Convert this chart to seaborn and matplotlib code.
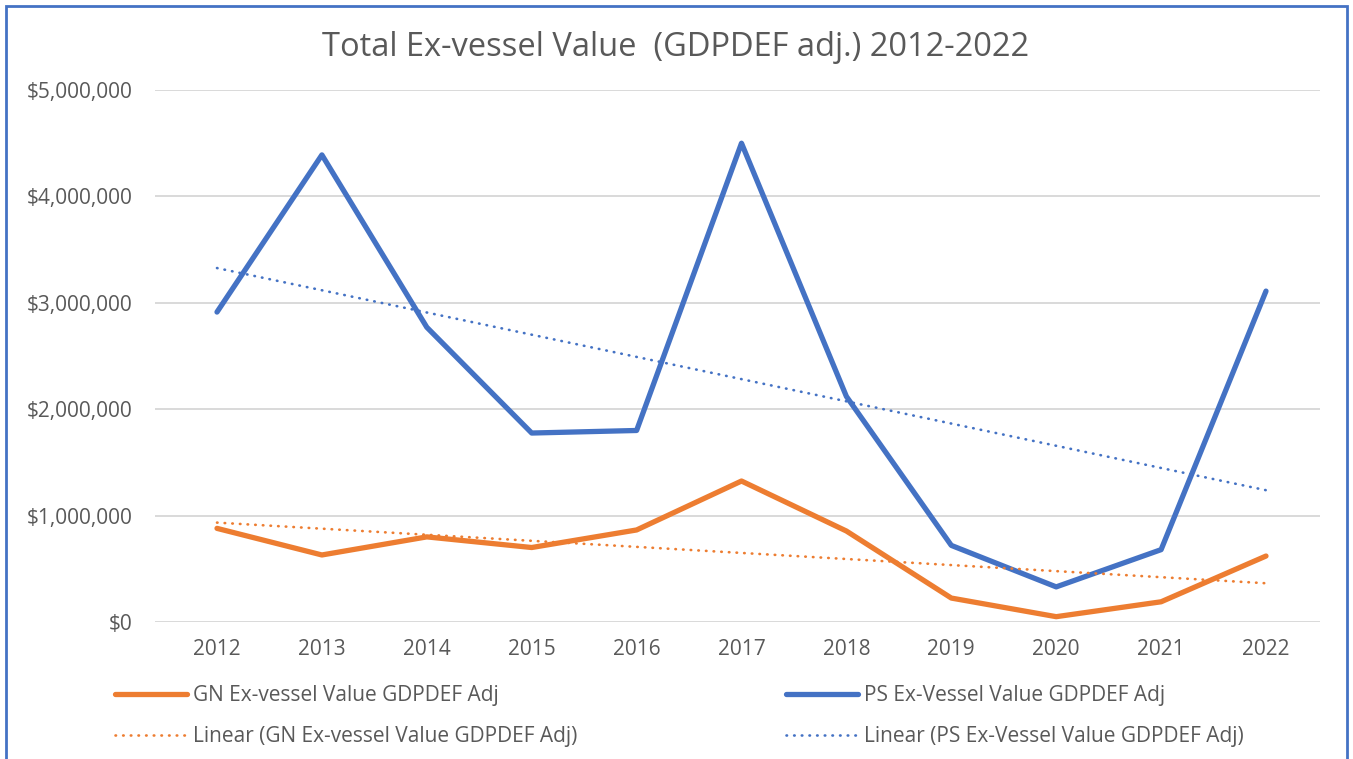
import numpy as np
import pandas as pd
import matplotlib
matplotlib.use("Agg")
import matplotlib.pyplot as plt
from matplotlib.lines import Line2D
from matplotlib.patches import Rectangle
from matplotlib.ticker import FuncFormatter
import seaborn as sns

years = [2012, 2013, 2014, 2015, 2016, 2017, 2018, 2019, 2020, 2021, 2022]
ps_values = [2913000, 4390000, 2770000, 1776000, 1800000, 4500000, 2120000, 720000, 330000, 680000, 3110000]
gn_values = [880000, 630000, 800000, 700000, 865000, 1325000, 855000, 225000, 50000, 190000, 620000]
y_ticks = [0, 1000000, 2000000, 3000000, 4000000, 5000000]

title = "Total Ex-vessel Value  (GDPDEF adj.) 2012-2022"
gn_label = "GN Ex-vessel Value GDPDEF Adj"
ps_label = "PS Ex-Vessel Value GDPDEF Adj"
gn_trend_label = "Linear (GN Ex-vessel Value GDPDEF Adj)"
ps_trend_label = "Linear (PS Ex-Vessel Value GDPDEF Adj)"

BLUE = "#4472C4"
ORANGE = "#ED7D31"
TEXT = "#595959"
GRID = "#D9D9D9"

sns.set_theme(style="white")
plt.rcParams["font.family"] = ["Open Sans", "DejaVu Sans"]

df = pd.DataFrame({"year": years, "ps": ps_values, "gn": gn_values})

W, H = 1353, 759
fig = plt.figure(figsize=(W / 100, H / 100), dpi=100)
ax = fig.add_axes([155 / W, 137 / H, 1165 / W, 532 / H])

SOLID_LW = 3.8
DOT_LW = 1.9
DOT_STYLE = (0, (0.2, 2.7))

sns.lineplot(data=df, x="year", y="gn", ax=ax, color=ORANGE, lw=SOLID_LW,
             solid_capstyle="round", legend=False)
sns.lineplot(data=df, x="year", y="ps", ax=ax, color=BLUE, lw=SOLID_LW,
             solid_capstyle="round", legend=False)
sns.regplot(data=df, x="year", y="gn", ax=ax, scatter=False, ci=None, truncate=True,
            line_kws=dict(color=ORANGE, lw=DOT_LW, linestyle=DOT_STYLE, dash_capstyle="round"))
sns.regplot(data=df, x="year", y="ps", ax=ax, scatter=False, ci=None, truncate=True,
            line_kws=dict(color=BLUE, lw=DOT_LW, linestyle=DOT_STYLE, dash_capstyle="round"))

step = (1266 - 217) / 10
ax.set_xlim(years[0] - (217 - 155) / step, years[-1] + (1320 - 1266) / step)
ax.set_ylim(0, 5000000)
ax.set_xticks(years)
ax.set_xticklabels([str(y) for y in years])
ax.set_yticks(y_ticks)
ax.yaxis.set_major_formatter(FuncFormatter(lambda v, p: f"${v:,.0f}"))
ax.set_xlabel("")
ax.set_ylabel("")
ax.grid(axis="y", color=GRID, lw=1.4)
ax.set_axisbelow(True)
for s in ax.spines.values():
    s.set_visible(False)
ax.tick_params(axis="both", length=0, colors=TEXT, labelsize=15)
ax.tick_params(axis="y", pad=16)
ax.tick_params(axis="x", pad=12)

fig.text(676 / W, 1 - 47 / H, title, ha="center", va="center", fontsize=23.5, color=TEXT)

handles = [
    Line2D([], [], color=ORANGE, lw=SOLID_LW, solid_capstyle="round"),
    Line2D([], [], color=ORANGE, lw=DOT_LW, linestyle=DOT_STYLE, dash_capstyle="round"),
    Line2D([], [], color=BLUE, lw=SOLID_LW, solid_capstyle="round"),
    Line2D([], [], color=BLUE, lw=DOT_LW, linestyle=DOT_STYLE, dash_capstyle="round"),
]
labels = [gn_label, gn_trend_label, ps_label, ps_trend_label]
leg = fig.legend(handles, labels, ncol=2, loc="upper left",
                 bbox_to_anchor=(115 / W, 1 - 685 / H), frameon=False, borderpad=0,
                 borderaxespad=0, fontsize=15, labelcolor=TEXT, handlelength=3.45,
                 handletextpad=0.29, columnspacing=10.0, labelspacing=0.95)

fig.patches.append(Rectangle((6 / W, -0.05), 1341 / W, 1.05 - 6 / H,
                             transform=fig.transFigure, fill=False, edgecolor=BLUE, lw=2))

fig.savefig("out.png", dpi=100, facecolor="white")
